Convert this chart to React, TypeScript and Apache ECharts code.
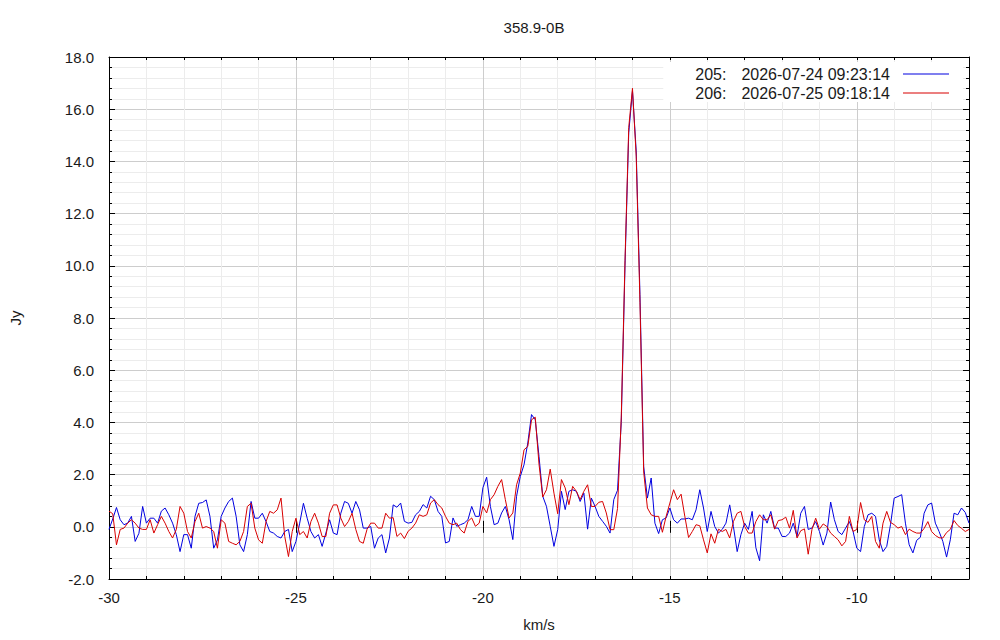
import React, { useEffect, useRef } from 'react';
import * as echarts from 'echarts';

// ---- data ----
const TITLE = '358.9-0B';
const X_NAME = 'km/s';
const Y_NAME = 'Jy';
const SCAN_IDS = ['205', '206'];
const SCAN_TIMES = ['2026-07-24 09:23:14', '2026-07-25 09:18:14'];

// channel grid (km/s)
const VELOCITY_START = -30;
const VELOCITY_STEP = 0.1;

const FLUX_205 = [
  -0.1, 0.3, 0.74, 0.27, 0.08, 0.14, 0.4, -0.56, -0.25, 0.78,
  0.14, 0.33, 0.33, 0.14, 0.6, 0.72, 0.46, 0.14, -0.3, -0.95,
  -0.3, -0.3, -0.82, 0.4, 0.9, 0.93, 1.03, 0.4, -0.82, -0.5,
  0.4, 0.72, 0.97, 1.1, 0.4, -0.69, -0.95, -0.3, 0.97, 0.33,
  0.33, 0.52, 0.2, -0.18, -0.24, -0.37, -0.43, -0.18, -0.1, -0.95,
  -0.56, 0.14, 0.9, 0.33, -0.18, -0.43, -0.3, -0.75, -0.24, 0.27,
  -0.24, -0.3, 0.52, 0.97, 0.9, 0.52, 0.97, 0.65, -0.05, -0.05,
  0.01, -0.82, -0.43, -0.3, -1.0, -0.43, 0.84, 0.75, 0.91, 0.21,
  0.14, 0.17, 0.46, 0.59, 0.85, 0.72, 1.17, 1.04, 0.59, 0.4,
  -0.62, -0.56, 0.34, 0.02, 0.08, 0.14, 0.27, 0.78, 0.4, 0.4,
  1.5, 1.9, 0.78, 0.08, 0.14, 0.53, 0.78, 0.27, -0.49, 1.17,
  1.93, 2.38, 3.21, 4.3, 4.1, 2.7, 1.17, 0.78, 0.02, -0.75,
  -0.11, 1.36, 0.66, 1.36, 1.42, 1.36, 0.97, 1.29, -0.09, 1.1,
  0.78, 0.4, 0.21, 0.02, -0.24, 1.04, 1.4, 4.0, 10.0, 15.1,
  16.7, 14.4, 8.9, 2.3, 1.1, 1.87, 0.14, -0.26, 0.27, 0.34,
  0.72, 0.27, 0.14, 0.3, 0.3, 0.33, 0.27, 0.65, 1.42, 0.72,
  -0.18, 0.59, 0.01, -0.24, -0.1, 0.14, 0.84, 0.01, -0.95, -0.3,
  0.14, -0.1, 0.59, -0.8, -1.3, 0.46, 0.14, 0.59, -0.05, -0.05,
  -0.37, -0.37, -0.24, 0.14, -0.37, 0.52, 0.78, -0.1, -0.05, 0.2,
  -0.18, -0.7, -0.24, 0.95, 0.27, -0.18, -0.3, -0.05, 0.2, -0.18,
  -0.82, -0.95, 0.01, 0.46, 0.52, 0.4, -0.5, -0.95, -0.75, 0.08,
  1.1, 1.16, 1.23, 0.14, -0.69, -1.0, -0.52, -0.4, 0.52, 0.84,
  0.91, 0.14, -0.18, -0.56, -1.16, -0.5, 0.52, 0.46, 0.72, 0.55,
  0.14,
];

const FLUX_206 = [
  0.6, 0.5, -0.69, -0.1, -0.05, 0.14, 0.27, 0.14, -0.05, -0.1,
  -0.1, 0.27, -0.24, 0.08, 0.4, 0.14, -0.18, -0.43, -0.1, 0.78,
  0.52, -0.18, -0.43, 0.2, 0.52, -0.05, 0.01, -0.05, -0.18, -0.82,
  0.27, 0.14, -0.56, -0.63, -0.69, -0.56, -0.18, 0.78, 0.9, -0.05,
  -0.5, -0.63, 0.2, 0.59, 0.52, 0.65, 1.1, -0.37, -1.14, -0.18,
  0.33, -0.3, -0.18, -0.43, 0.2, 0.52, 0.14, -0.37, -0.37, 0.52,
  0.84, 0.84, 0.33, 0.01, 0.2, 0.52, -0.1, -0.56, -0.63, -0.1,
  0.14, 0.14, -0.05, -0.05, 0.52, 0.33, 0.35, -0.37, -0.24, -0.45,
  -0.17, -0.05, 0.14, 0.46, 0.4, 0.46, 0.91, 1.04, 0.85, 0.72,
  0.4, 0.14, 0.08, 0.14, -0.11, -0.24, 0.21, 0.34, 0.02, 0.14,
  0.78, 0.53, 1.04, 1.23, 1.55, 1.81, 1.04, 0.34, 0.53, 1.61,
  2.06, 2.95, 3.08, 4.1, 4.2, 2.4, 1.14, 1.42, 2.21, 1.29,
  0.5, 1.81, 1.49, 0.85, 1.55, 1.36, 1.04, 1.36, 1.61, 0.78,
  0.78, 0.94, 0.97, 0.53, -0.11, -0.11, 0.7, 4.2, 10.2, 15.3,
  16.8, 14.2, 8.6, 2.1, 0.72, 0.46, 0.4, 0.4, -0.21, 0.4,
  0.91, 1.42, 1.04, 1.25, 0.4, -0.41, -0.18, 0.08, 0.04, -0.5,
  -1.0, -0.27, -0.63, -0.09, -0.18, -0.1, -0.43, 0.2, 0.52, 0.59,
  0.01, -0.24, -0.24, 0.2, 0.46, 0.27, 0.27, 0.46, -0.09, 0.24,
  0.27, 0.37, -0.05, 0.63, -0.43, -0.15, -0.08, -1.05, -0.1, 0.33,
  -0.09, 0.11, 0.01, -0.24, -0.37, -0.5, -0.73, -0.56, 0.4, -0.18,
  -0.1, 0.93, 0.27, 0.17, 0.4, -0.56, -0.82, 0.14, 0.59, 0.17,
  0.08, -0.05, 0.01, -0.3, -0.09, -0.18, -0.24, -0.24, -0.06, 0.2,
  -0.18, -0.33, -0.42, -0.43, -0.22, -0.1, 0.24, 0.05, -0.06, -0.18,
  -0.1,
];

// axis settings
const X_MIN = -30;
const X_MAX = -7;
const X_MAJOR = 5;
const X_MINOR = 1;
const Y_MIN = -2;
const Y_MAX = 18;
const Y_MAJOR = 2;

// ---- styles ----
const FONT = '"Liberation Sans", Arial, sans-serif';
const TEXT = '#1a1a1a';
const BLUE = '#0000e0';
const RED = '#d80000';
const MAJOR_GRID = '#cdcdcd';
const MINOR_GRID = '#ececec';

const toPoints = (values: number[]) =>
  values.map((v, i) => [Number((VELOCITY_START + i * VELOCITY_STEP).toFixed(2)), v]);

const axisLine = { show: true, onZero: false, lineStyle: { color: '#000', width: 1 } };

function buildOption(): any {
  const xBase = { type: 'value', min: X_MIN, max: X_MAX, gridIndex: 0 };
  const yBase = { type: 'value', min: Y_MIN, max: Y_MAX, interval: Y_MAJOR, gridIndex: 0 };
  return {
    animation: false,
    backgroundColor: '#fff',
    textStyle: { fontFamily: FONT },
    grid: { left: 105, top: 57, width: 864, height: 522, containLabel: false },
    graphic: [
      {
        type: 'text',
        x: 534,
        y: 27,
        style: {
          text: TITLE,
          fill: TEXT,
          fontSize: 15,
          fontFamily: FONT,
          align: 'center',
          verticalAlign: 'middle',
          textAlign: 'center',
          textVerticalAlign: 'middle',
        },
      },
    ],
    legend: {
      orient: 'vertical',
      right: 37,
      top: 62,
      align: 'right',
      padding: [4, 14, 1, 32],
      itemGap: 3,
      itemWidth: 46,
      itemHeight: 1,
      icon: 'rect',
      backgroundColor: '#fff',
      selectedMode: false,
      data: SCAN_IDS,
      formatter: (name: string) => {
        const i = SCAN_IDS.indexOf(name);
        return `{n|${name}:}{d|${SCAN_TIMES[i]}}`;
      },
      textStyle: {
        fontSize: 16,
        color: TEXT,
        fontFamily: FONT,
        rich: {
          n: { fontSize: 16, color: TEXT, fontFamily: FONT, padding: [0, 15, 0, 0] },
          d: { fontSize: 16, color: TEXT, fontFamily: FONT, padding: [0, 8, 0, 0] },
        },
      },
    },
    xAxis: [
      {
        ...xBase,
        position: 'bottom',
        interval: X_MINOR,
        axisLine,
        axisTick: { show: true, inside: true, length: 3, lineStyle: { color: '#000' } },
        axisLabel: {
          margin: 11,
          fontSize: 15,
          color: TEXT,
          fontFamily: FONT,
          formatter: (v: number) => (Math.abs(v % X_MAJOR) < 1e-9 ? String(v) : ''),
        },
        splitLine: {
          show: true,
          lineStyle: { color: [MAJOR_GRID, MINOR_GRID, MINOR_GRID, MINOR_GRID, MINOR_GRID], width: 1 },
        },
        name: X_NAME,
        nameLocation: 'middle',
        nameGap: 38,
        nameTextStyle: { fontSize: 15, color: TEXT, fontFamily: FONT },
      },
      {
        ...xBase,
        position: 'top',
        interval: X_MINOR,
        axisLine,
        axisTick: { show: true, inside: true, length: 3, lineStyle: { color: '#000' } },
        axisLabel: { show: false },
        splitLine: { show: false },
      },
      {
        ...xBase,
        position: 'bottom',
        interval: X_MAJOR,
        axisLine: { show: false },
        axisTick: { show: true, inside: true, length: 6, lineStyle: { color: '#000' } },
        axisLabel: { show: false },
        splitLine: { show: false },
      },
      {
        ...xBase,
        position: 'top',
        interval: X_MAJOR,
        axisLine: { show: false },
        axisTick: { show: true, inside: true, length: 6, lineStyle: { color: '#000' } },
        axisLabel: { show: false },
        splitLine: { show: false },
      },
    ],
    yAxis: [
      {
        ...yBase,
        position: 'left',
        axisLine,
        axisTick: { show: true, inside: true, length: 6, lineStyle: { color: '#000' } },
        minorTick: { show: true, splitNumber: 5, length: 3, lineStyle: { color: '#000' } },
        axisLabel: {
          margin: 15,
          fontSize: 15,
          color: TEXT,
          fontFamily: FONT,
          formatter: (v: number) => v.toFixed(1),
        },
        splitLine: { show: true, lineStyle: { color: MAJOR_GRID, width: 1 } },
        minorSplitLine: { show: true, lineStyle: { color: MINOR_GRID, width: 1 } },
        name: Y_NAME,
        nameLocation: 'middle',
        nameRotate: 90,
        nameGap: 86,
        nameTextStyle: { fontSize: 15, color: TEXT, fontFamily: FONT },
      },
      {
        ...yBase,
        position: 'right',
        axisLine,
        axisTick: { show: true, inside: true, length: 6, lineStyle: { color: '#000' } },
        minorTick: { show: true, splitNumber: 5, length: 3, lineStyle: { color: '#000' } },
        axisLabel: { show: false },
        splitLine: { show: false },
      },
    ],
    series: [
      {
        name: SCAN_IDS[0],
        type: 'line',
        xAxisIndex: 0,
        yAxisIndex: 0,
        data: toPoints(FLUX_205),
        symbol: 'none',
        showSymbol: false,
        lineStyle: { color: BLUE, width: 1 },
        itemStyle: { color: BLUE },
        z: 2,
      },
      {
        name: SCAN_IDS[1],
        type: 'line',
        xAxisIndex: 0,
        yAxisIndex: 0,
        data: toPoints(FLUX_206),
        symbol: 'none',
        showSymbol: false,
        lineStyle: { color: RED, width: 1 },
        itemStyle: { color: RED },
        z: 3,
      },
    ],
  };
}

export default function App() {
  const ref = useRef<HTMLDivElement>(null);
  useEffect(() => {
    if (!ref.current) return;
    const chart = echarts.init(ref.current, null, { renderer: 'svg' });
    chart.setOption(buildOption());
    return () => chart.dispose();
  }, []);
  return (
    <div
      ref={ref}
      style={{ position: 'fixed', left: 0, top: 0, width: 1000, height: 640, background: '#fff' }}
    />
  );
}
